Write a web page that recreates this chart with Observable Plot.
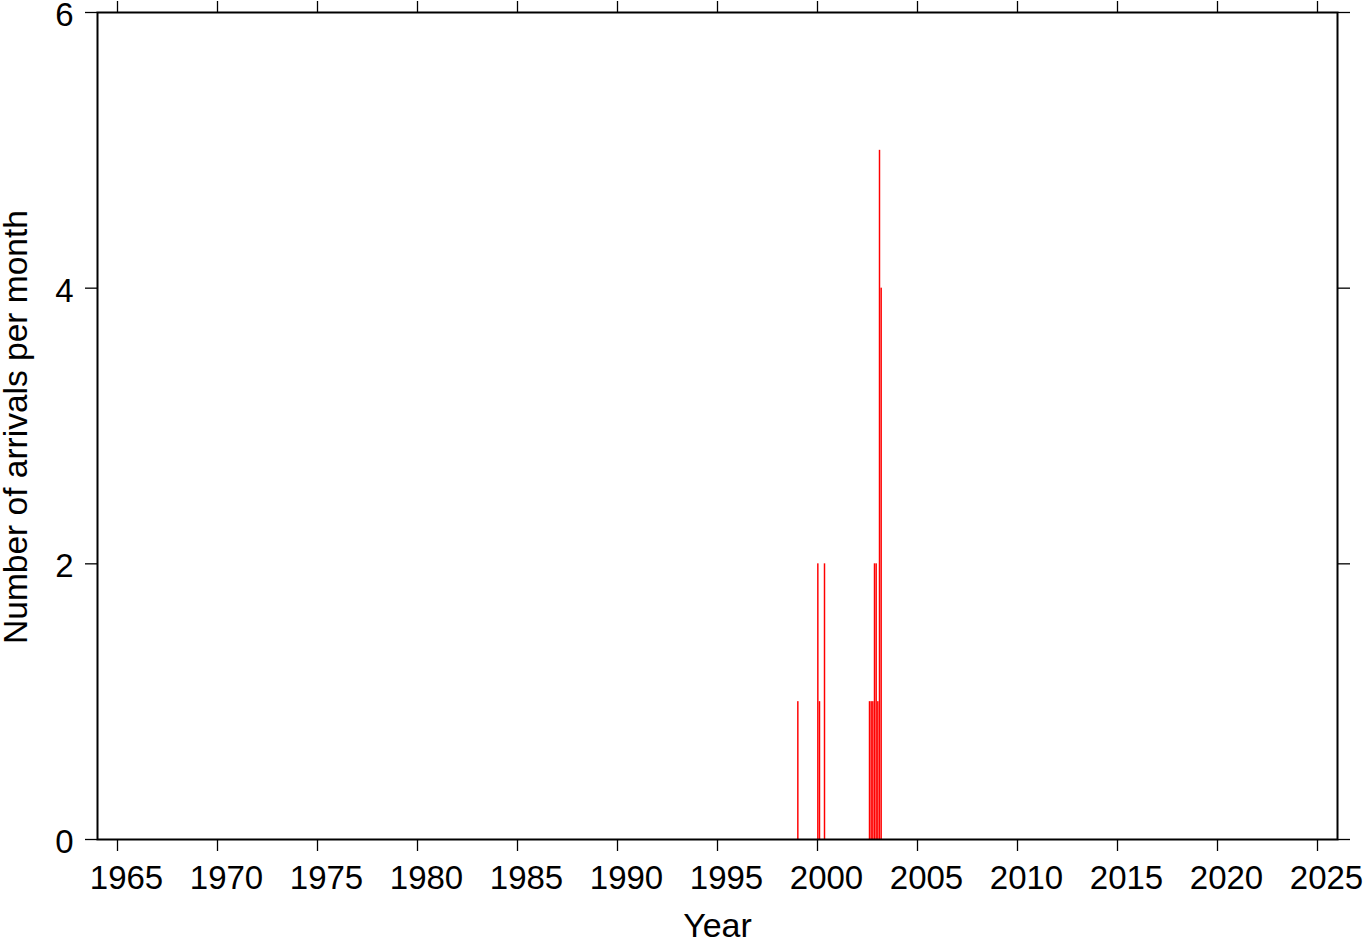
<!DOCTYPE html>
<html>
<head>
<meta charset="utf-8">
<script src="https://cdn.jsdelivr.net/npm/d3@7"></script>
<script src="https://cdn.jsdelivr.net/npm/@observablehq/plot@0.6"></script>
<style>
  html, body { margin: 0; padding: 0; background: #fff; }
  #chart svg { display: block; }
</style>
</head>
<body>
<div id="chart"></div>
<script>
// Monthly arrival counts (year, month index 1-12)
const years  = [1999, 2000, 2000, 2000, 2002, 2002, 2002, 2002, 2002, 2003, 2003, 2003];
const months = [1,    1,    2,    5,    8,    9,    10,   11,   12,   1,    2,    3];
const counts = [1,    2,    1,    2,    1,    1,    1,    2,    2,    1,    5,    4];

const xTicks = d3.range(1965, 2026, 5);
const yTicks = [0, 2, 4, 6];
const xLabel = "Year";
const yLabel = "Number of arrivals per month";

const data = years.map((y, i) => ({
  start: y + (months[i] - 1) / 12,
  end: y + months[i] / 12,
  count: counts[i]
}));

const font = "'Liberation Sans', Arial, Helvetica, sans-serif";
const fs = 33;
const blank = () => "";

const chart = Plot.plot({
  width: 1363,
  height: 942,
  marginLeft: 97,
  marginRight: 26,
  marginTop: 12,
  marginBottom: 103,
  style: {fontFamily: font, background: "#fff", color: "#000"},
  x: {domain: [1964, 2026], axis: null},
  y: {domain: [0, 6], axis: null},
  marks: [
    Plot.rectY(data, {x1: "start", x2: "end", y1: 0, y2: "count", fill: "#ff0000", insetLeft: 0.1, insetRight: 0.1}),
    // tick lines on all four sides
    Plot.axisX(xTicks, {anchor: "bottom", tickSize: 12, tickFormat: blank, strokeWidth: 1.3, label: null}),
    Plot.axisX(xTicks, {anchor: "top", tickSize: 12, tickFormat: blank, strokeWidth: 1.3, label: null}),
    Plot.axisY(yTicks, {anchor: "left", tickSize: 12, tickFormat: blank, strokeWidth: 1.3, label: null}),
    Plot.axisY(yTicks, {anchor: "right", tickSize: 12, tickFormat: blank, strokeWidth: 1.3, label: null}),
    // tick labels
    Plot.axisX(xTicks, {anchor: "bottom", tickSize: 0, tickPadding: 26, dx: 9, fontSize: fs, tickFormat: d => String(d), label: null}),
    Plot.axisY(yTicks, {anchor: "left", tickSize: 0, tickPadding: 24, dy: 3, fontSize: fs, tickFormat: d => String(d), label: null}),
    Plot.frame({stroke: "#000", strokeWidth: 2}),
    Plot.text([xLabel], {frameAnchor: "bottom", lineAnchor: "bottom", textAnchor: "middle", dy: 97, fontSize: 34, fill: "#000"}),
    Plot.text([yLabel], {frameAnchor: "left", lineAnchor: "bottom", textAnchor: "middle", rotate: -90, dx: -71, dy: 1, fontSize: 33.5, fill: "#000"})
  ]
});

document.getElementById("chart").appendChild(chart);
</script>
</body>
</html>
